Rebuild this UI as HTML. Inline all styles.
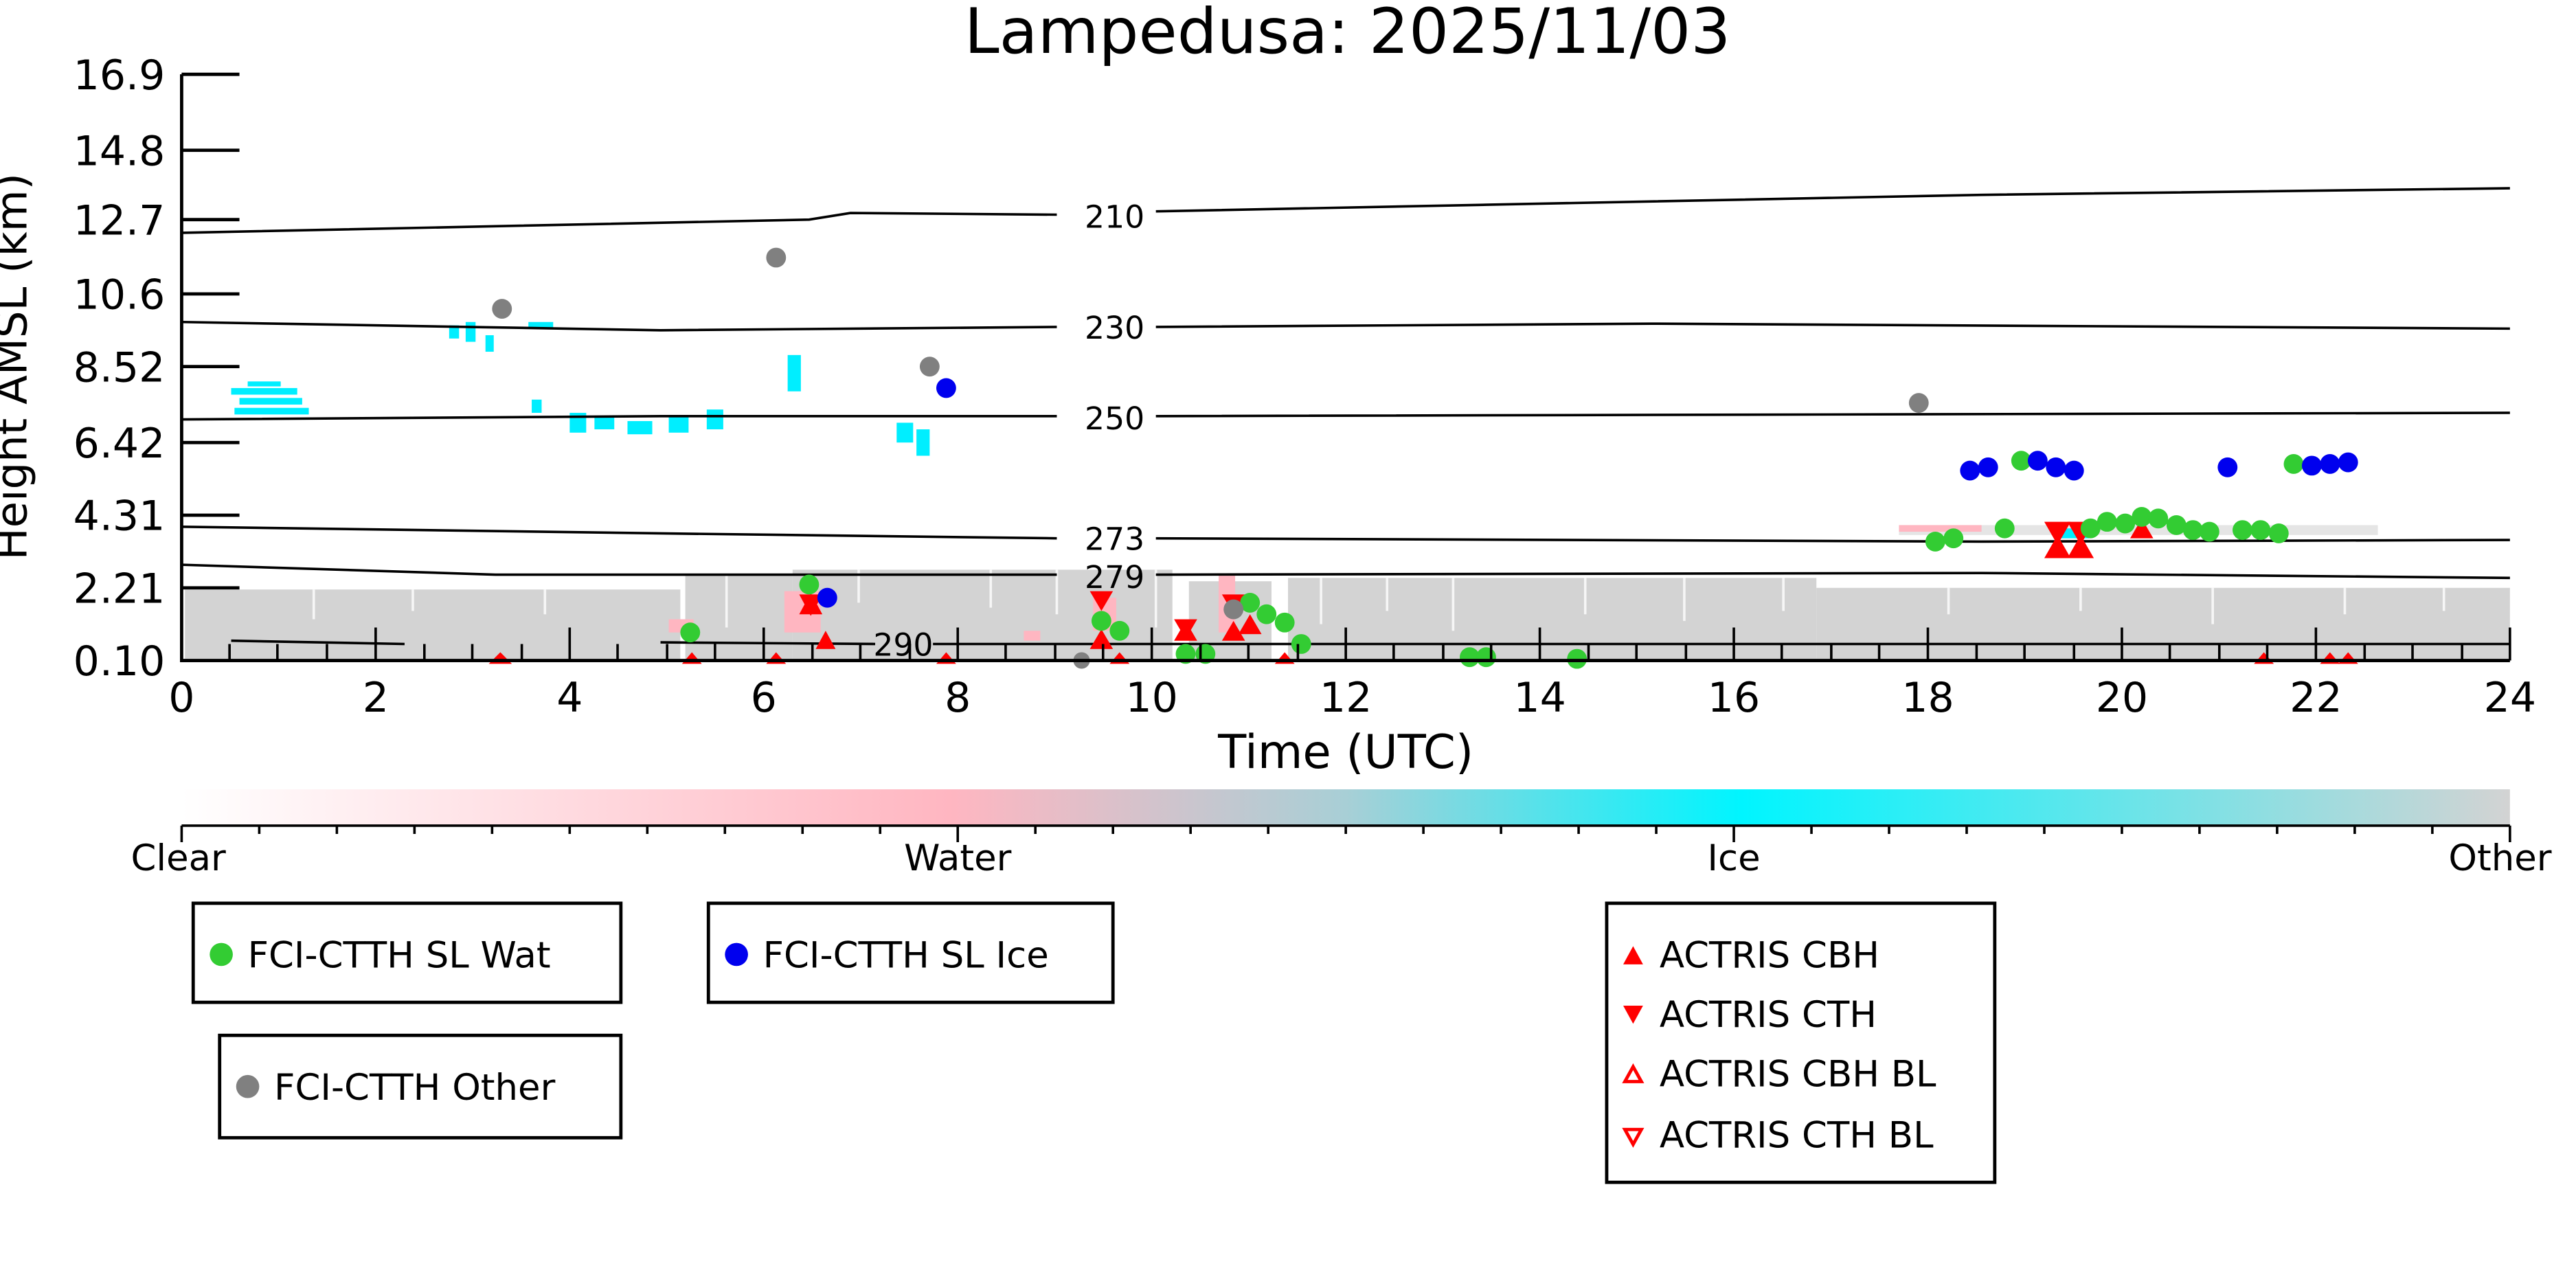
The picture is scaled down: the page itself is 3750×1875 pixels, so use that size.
<!DOCTYPE html>
<html><head><meta charset="utf-8"><style>
html,body{margin:0;padding:0;background:#fff;}
svg{display:block;}
text{font-family:"DejaVu Sans","Liberation Sans",sans-serif;}
</style></head><body>
<svg width="3750" height="1875" viewBox="0 0 1560 780" xmlns="http://www.w3.org/2000/svg">
<defs>
<linearGradient id="cb" x1="0" x2="1" y1="0" y2="0">
<stop offset="0" stop-color="#ffffff"/>
<stop offset="0.33" stop-color="#ffb6c1"/>
<stop offset="0.5" stop-color="#a8cfd6"/>
<stop offset="0.67" stop-color="#00f5ff"/>
<stop offset="1" stop-color="#d3d3d3"/>
</linearGradient>
</defs>
<rect width="1560" height="780" fill="#fff"/>
<text x="816" y="32" font-size="38" text-anchor="middle">Lampedusa: 2025/11/03</text>

<!-- cloud grey area -->
<g fill="#d3d3d3">
<rect x="112" y="357" width="300" height="43"/>
<rect x="415" y="348" width="65" height="52"/>
<rect x="480" y="345" width="230" height="55"/>
<rect x="720" y="352" width="50" height="48"/>
<rect x="780" y="350" width="320" height="50"/>
<rect x="1100" y="356" width="420" height="44"/>
<rect x="1150" y="318" width="290" height="6" opacity="0.6"/>
</g>
<g stroke="#fff" stroke-width="1.5" opacity="0.8">
<path d="M190,357V375M250,357V370M330,357V372M440,348V380M520,345V365M600,345V368M640,345V372M700,345V380M800,350V378M840,350V370M880,350V382M960,350V372M1020,350V376M1080,350V370M1180,356V372M1260,356V370M1340,356V378M1420,356V372M1480,356V370"/>
</g>
<g fill="#ffb6c1">
<rect x="475" y="358" width="22" height="25"/>
<rect x="405" y="375" width="15" height="8"/>
<rect x="738" y="348" width="10" height="35"/>
<rect x="662" y="362" width="14" height="20"/>
<rect x="1150" y="318" width="50" height="4"/>
<rect x="620" y="382" width="10" height="6"/>
</g>
<g fill="#00eeff">
<rect x="140" y="235" width="40" height="4"/><rect x="145" y="241" width="38" height="4"/><rect x="142" y="247" width="45" height="4"/><rect x="150" y="231" width="20" height="3"/>
<rect x="272" y="197" width="6" height="8"/><rect x="282" y="195" width="6" height="12"/><rect x="294" y="203" width="5" height="10"/><rect x="320" y="195" width="15" height="4"/>
<rect x="322" y="242" width="6" height="8"/>
<rect x="345" y="250" width="10" height="12"/><rect x="360" y="252" width="12" height="8"/><rect x="380" y="255" width="15" height="8"/><rect x="405" y="252" width="12" height="10"/><rect x="428" y="248" width="10" height="12"/>
<rect x="477" y="215" width="8" height="22"/>
<rect x="543" y="256" width="10" height="12"/><rect x="555" y="260" width="8" height="16"/>
<rect x="1245" y="320" width="20" height="6"/>
</g>

<!-- contours -->
<g fill="none" stroke="#000" stroke-width="1.5">
<path d="M110,141 L300,137 L490,133 L515,129 L640,130 M700,128 L900,124 L1200,118 L1520,114"/>
<path d="M110,195 L400,200 L640,198 M700,198 L1000,196 L1520,199"/>
<path d="M110,254 L400,252 L640,252 M700,252 L1520,250"/>
<path d="M110,319 L400,323 L640,326 M700,326 L1200,328 L1520,327"/>
<path d="M110,342 L300,348 L640,348 M700,348 L1200,347 L1520,350"/>
<path d="M140,388 L245,390 M400,389 L530,390 M565,390 L1520,390"/>
</g>
<g font-size="19" text-anchor="middle">
<text x="675" y="138">210</text>
<text x="675" y="205">230</text>
<text x="675" y="260">250</text>
<text x="675" y="333">273</text>
<text x="675" y="356">279</text>
<text x="547" y="397">290</text>
</g>

<g fill="#ff0000">
<path d="M484,372 l7,-13 l7,13z"/><path d="M484,360 l7,13 l7,-13z"/>
<path d="M494,393 l6,-11 l6,11z"/>
<path d="M660,358 l7,12 l7,-12z"/><path d="M660,393 l7,-12 l7,12z"/>
<path d="M711,388 l7,-12 l7,12z"/><path d="M711,375 l7,12 l7,-12z"/>
<path d="M740,388 l7,-12 l7,12z"/><path d="M740,360 l7,12 l7,-12z"/>
<path d="M750,384 l7,-12 l7,12z"/>
<path d="M1238,338 l8,-14 l8,14z"/><path d="M1238,316 l8,14 l8,-14z"/>
<path d="M1252,338 l8,-14 l8,14z"/><path d="M1252,316 l8,14 l8,-14z"/>
<path d="M1290,326 l7,-12 l7,12z"/>
<path d="M296,402 l7,-7 l7,7z"/><path d="M413,402 l6,-7 l6,7z"/><path d="M464,402 l6,-7 l6,7z"/>
<path d="M567,402 l6,-7 l6,7z"/><path d="M672,402 l6,-7 l6,7z"/><path d="M772,402 l6,-7 l6,7z"/>
<path d="M1365,402 l6,-7 l6,7z"/><path d="M1405,402 l6,-7 l6,7z"/><path d="M1416,402 l6,-7 l6,7z"/>
</g>
<g fill="#33cc33">
<circle cx="418" cy="383" r="6"/><circle cx="490" cy="354" r="6"/>
<circle cx="667" cy="376" r="6"/><circle cx="678" cy="382" r="6"/>
<circle cx="718" cy="396" r="6"/><circle cx="730" cy="396" r="6"/>
<circle cx="757" cy="365" r="6"/><circle cx="767" cy="372" r="6"/><circle cx="778" cy="377" r="6"/><circle cx="788" cy="390" r="6"/>
<circle cx="890" cy="398" r="6"/><circle cx="900" cy="398" r="6"/><circle cx="955" cy="399" r="6"/>
<circle cx="1172" cy="328" r="6"/><circle cx="1183" cy="326" r="6"/><circle cx="1214" cy="320" r="6"/>
<circle cx="1224" cy="279" r="6"/><circle cx="1266" cy="320" r="6"/><circle cx="1276" cy="316" r="6"/>
<circle cx="1287" cy="317" r="6"/><circle cx="1297" cy="313" r="6"/><circle cx="1307" cy="314" r="6"/>
<circle cx="1318" cy="318" r="6"/><circle cx="1328" cy="321" r="6"/><circle cx="1338" cy="322" r="6"/>
<circle cx="1358" cy="321" r="6"/><circle cx="1369" cy="321" r="6"/><circle cx="1380" cy="323" r="6"/>
<circle cx="1389" cy="281" r="6"/>
</g>
<g fill="#0000ee">
<circle cx="501" cy="362" r="6"/><circle cx="573" cy="235" r="6"/>
<circle cx="1193" cy="285" r="6"/><circle cx="1204" cy="283" r="6"/><circle cx="1234" cy="279" r="6"/>
<circle cx="1245" cy="283" r="6"/><circle cx="1256" cy="285" r="6"/><circle cx="1349" cy="283" r="6"/>
<circle cx="1400" cy="282" r="6"/><circle cx="1411" cy="281" r="6"/><circle cx="1422" cy="280" r="6"/>
</g>
<g fill="#808080">
<circle cx="304" cy="187" r="6"/><circle cx="470" cy="156" r="6"/><circle cx="563" cy="222" r="6"/>
<circle cx="747" cy="369" r="6"/><circle cx="1162" cy="244" r="6"/><circle cx="655" cy="400" r="5"/>
</g>

<g stroke="#000" stroke-width="2" fill="none">
<path d="M110,45 L110,400 L1520,400"/>
<path d="M110,45 H145 M110,91 H145 M110,133 H145 M110,178 H145 M110,222 H145 M110,268 H145 M110,312 H145 M110,356 H145"/>
</g>
<g stroke="#000" stroke-width="1.5">
<path d="M110,400 V380 M227.5,400 V380 M345,400 V380 M462.5,400 V380 M580,400 V380 M697.5,400 V380 M815,400 V380 M932.5,400 V380 M1050,400 V380 M1167.5,400 V380 M1285,400 V380 M1402.5,400 V380 M1520,400 V380"/>
<path d="M139,400V390M168,400V390M198,400V390M257,400V390M286,400V390M316,400V390M374,400V390M404,400V390M433,400V390M492,400V390M521,400V390M551,400V390M609,400V390M639,400V390M668,400V390M727,400V390M756,400V390M786,400V390M844,400V390M874,400V390M903,400V390M962,400V390M991,400V390M1021,400V390M1079,400V390M1109,400V390M1138,400V390M1197,400V390M1226,400V390M1256,400V390M1314,400V390M1344,400V390M1373,400V390M1432,400V390M1461,400V390M1491,400V390"/>
</g>
<g font-size="25" text-anchor="end">
<text x="100" y="54">16.9</text><text x="100" y="100">14.8</text><text x="100" y="142">12.7</text>
<text x="100" y="187">10.6</text><text x="100" y="231">8.52</text><text x="100" y="277">6.42</text>
<text x="100" y="321">4.31</text><text x="100" y="365">2.21</text><text x="100" y="409">0.10</text>
</g>
<text transform="translate(16,222) rotate(-90)" font-size="26" text-anchor="middle">Height AMSL (km)</text>
<g font-size="25" text-anchor="middle">
<text x="110" y="431">0</text><text x="227.5" y="431">2</text><text x="345" y="431">4</text><text x="462.5" y="431">6</text>
<text x="580" y="431">8</text><text x="697.5" y="431">10</text><text x="815" y="431">12</text><text x="932.5" y="431">14</text>
<text x="1050" y="431">16</text><text x="1167.5" y="431">18</text><text x="1285" y="431">20</text><text x="1402.5" y="431">22</text><text x="1520" y="431">24</text>
</g>
<text x="815" y="465" font-size="28" text-anchor="middle">Time (UTC)</text>

<rect x="110" y="478" width="1410" height="22" fill="url(#cb)"/>
<g stroke="#000" stroke-width="1.5">
<path d="M110,500 H1520"/>
<path d="M110,500V510M580,500V510M1050,500V510M1520,500V510"/>
<path d="M157,500V505M204,500V505M251,500V505M298,500V505M345,500V505M392,500V505M439,500V505M486,500V505M533,500V505M627,500V505M674,500V505M721,500V505M768,500V505M815,500V505M862,500V505M909,500V505M956,500V505M1003,500V505M1097,500V505M1144,500V505M1191,500V505M1238,500V505M1285,500V505M1332,500V505M1379,500V505M1426,500V505M1473,500V505"/>
</g>
<g font-size="22" text-anchor="middle">
<text x="108" y="527">Clear</text><text x="580" y="527">Water</text><text x="1050" y="527">Ice</text><text x="1514" y="527">Other</text>
</g>

<g fill="#fff" stroke="#000" stroke-width="2">
<rect x="117" y="547" width="259" height="60"/>
<rect x="133" y="627" width="243" height="62"/>
<rect x="429" y="547" width="245" height="60"/>
<rect x="973" y="547" width="235" height="169"/>
</g>
<g font-size="22">
<circle cx="134" cy="578" r="7" fill="#33cc33"/><text x="150" y="586">FCI-CTTH SL Wat</text>
<circle cx="150" cy="658" r="7" fill="#808080"/><text x="166" y="666">FCI-CTTH Other</text>
<circle cx="446" cy="578" r="7" fill="#0000ee"/><text x="462" y="586">FCI-CTTH SL Ice</text>
<path d="M983,584 l6,-11 l6,11z" fill="#ff0000"/><text x="1005" y="586">ACTRIS CBH</text>
<path d="M983,609 l6,11 l6,-11z" fill="#ff0000"/><text x="1005" y="622">ACTRIS CTH</text>
<path d="M984,655 l5,-9 l5,9z" fill="none" stroke="#ff0000" stroke-width="2"/><text x="1005" y="658">ACTRIS CBH BL</text>
<path d="M984,684 l5,9 l5,-9z" fill="none" stroke="#ff0000" stroke-width="2"/><text x="1005" y="695">ACTRIS CTH BL</text>
</g>
</svg>
</body></html>
